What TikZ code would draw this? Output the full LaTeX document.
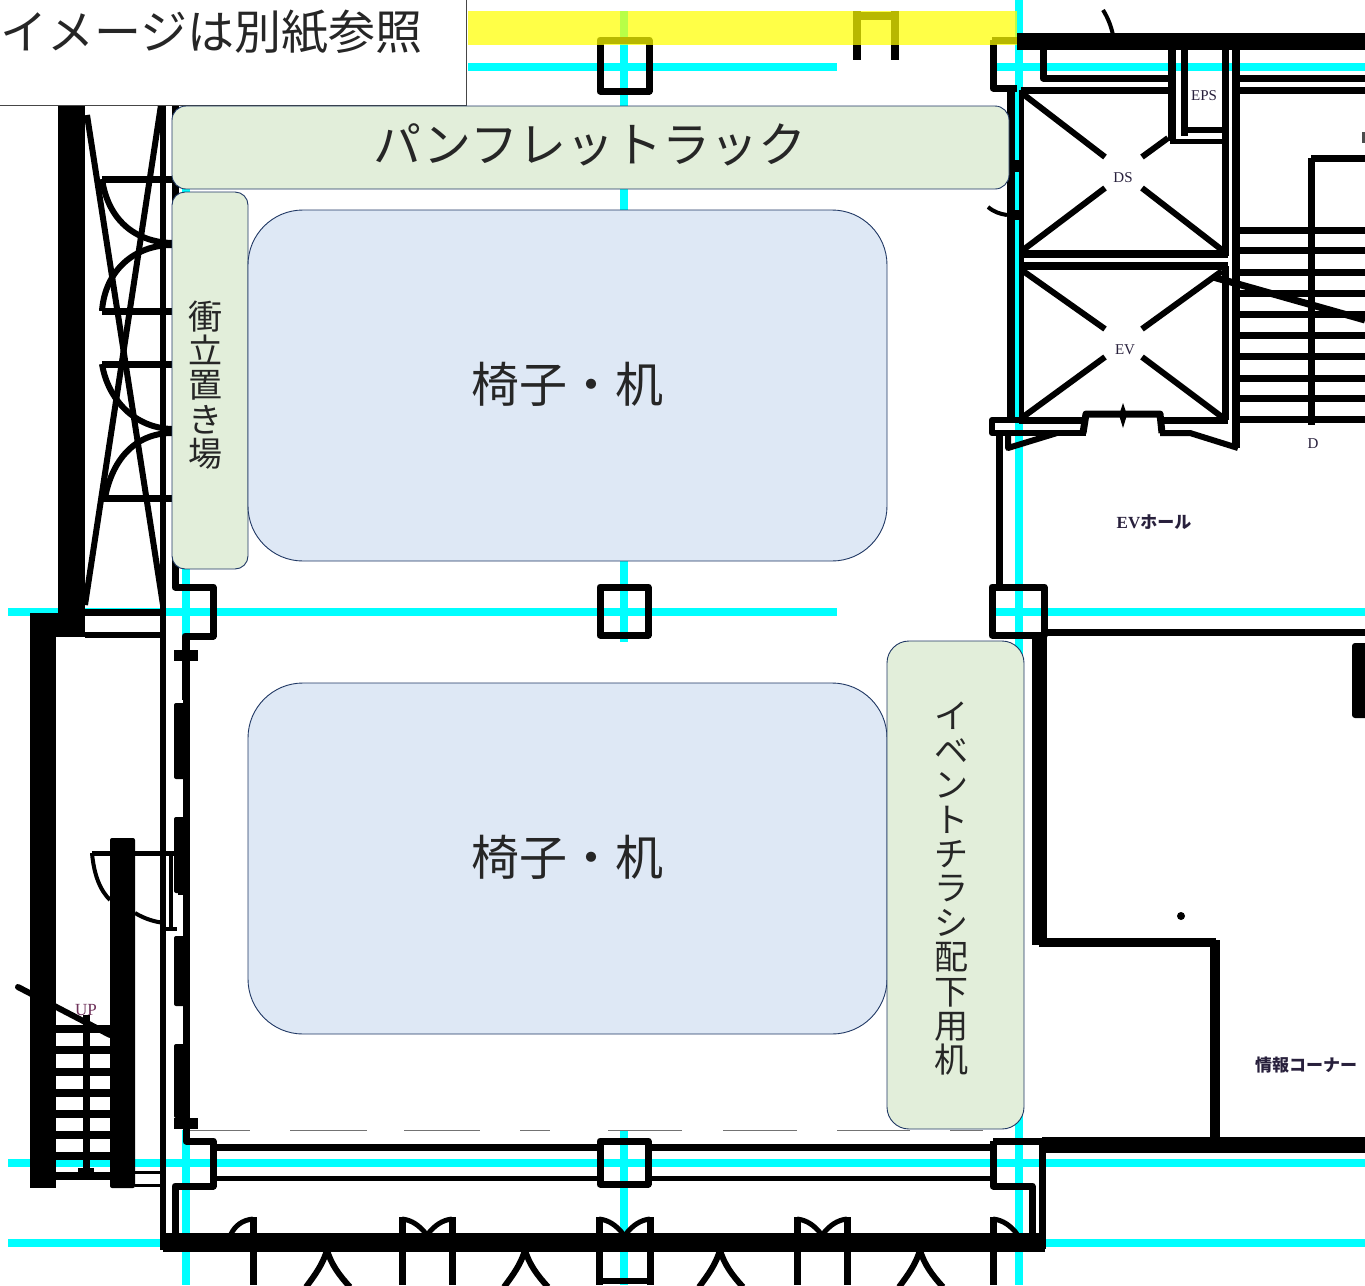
\documentclass[tikz,border=0pt]{standalone}
\usepackage{fontspec}
\setmainfont{Liberation Serif}
\newfontfamily\jpfont{Noto Sans CJK JP}
\definecolor{gridcyan}{RGB}{0,255,255}
\definecolor{markyellow}{RGB}{255,255,0}
\definecolor{boxedge}{RGB}{32,56,100}
\definecolor{boxgreen}{RGB}{226,238,218}
\definecolor{boxblue}{RGB}{222,232,245}
\definecolor{inktext}{RGB}{38,38,38}
\definecolor{planink}{RGB}{40,32,60}
\tikzset{
  wall/.style={black,line width=#1,line join=round},
  wall/.default=7pt,
  grid/.style={gridcyan,line width=8pt},
  greenbox/.style={draw=boxedge,fill=boxgreen,line width=0.9pt,rounded corners=#1},
  bluebox/.style={draw=boxedge,fill=boxblue,line width=0.9pt,rounded corners=55pt},
  jplabel/.style={inner sep=0pt,font=\jpfont\fontsize{48}{48}\selectfont,text=inktext},
  vlabel/.style={inner sep=0pt,align=center,font=\jpfont\fontsize{34}{34.4}\selectfont,text=inktext},
  tinylabel/.style={inner sep=0pt,font=\fontsize{15}{15}\selectfont,text=planink}
}
\begin{document}
\begin{tikzpicture}[x=1pt,y=-1pt]
\useasboundingbox (0,0) rectangle (1365,1285);
\fill [white] (0,0) rectangle (1365,1285);
\draw [grid] (468,67) -- (837,67);
\draw [grid] (990,67) -- (1365,67);
\draw [grid] (8,612) -- (837,612);
\draw [grid] (990,612) -- (1365,612);
\draw [grid] (8,1163) -- (1365,1163);
\draw [grid] (8,1243) -- (170,1243);
\draw [grid] (1030,1243) -- (1365,1243);
\draw [grid] (186,105) -- (186,640);
\draw [grid] (186,1130) -- (186,1285);
\draw [grid] (624,11) -- (624,642);
\draw [grid] (624,1130) -- (624,1285);
\draw [grid] (1019,0) -- (1019,1285);
\fill [black] (58,105) rectangle (85,615);
\fill [black] (30,613) rectangle (85,637);
\fill [black] (30,637) rectangle (56,1188);
\draw [wall=6pt] (87,115) -- (163,605);
\draw [wall=6pt] (161,105) -- (85,605);
\draw [wall=6pt] (163,105) -- (163,1250);
\draw [wall=7pt] (85,612) -- (163,612);
\draw [wall=6pt] (85,635) -- (163,635);
\foreach \yrung in {179,311,364,498} \draw [wall=7pt] (102,\yrung) -- (172,\yrung);
\draw [wall=6pt] (102,179) .. controls (108,220) and (135,242) .. (172,243);
\draw [wall=6pt] (102,311) .. controls (105,270) and (135,245) .. (172,245);
\draw [wall=6pt] (102,364) .. controls (108,400) and (135,428) .. (172,429);
\draw [wall=6pt] (105,498) .. controls (112,460) and (135,433) .. (172,433);
\draw [wall] (175,105) -- (175,587) -- (213,587) -- (213,636) -- (185,636) -- (185,700);
\draw [wall] (186,640) -- (186,1141) -- (213,1141) -- (213,1186) -- (175,1186) -- (175,1240);
\fill [black] (174,650) rectangle (198,661);
\foreach \ytop/\ybot in {703/779,817/893,936/1006,1044/1118} \fill [black,rounded corners=2pt] (174,\ytop) rectangle (186,\ybot);
\fill [black] (178,893) rectangle (190,895);
\fill [white] (178,895) rectangle (182,922);
\fill [black] (174,1118) rectangle (198,1129);
\fill [black,rounded corners=2pt] (110,838) rectangle (135,1188);
\draw [wall=5pt] (92,853) -- (176,853);
\draw [wall=4pt] (171,853) -- (171,928);
\draw [wall=4pt] (163,929) -- (177,929);
\draw [wall=4pt] (92,853) .. controls (94,875) and (100,890) .. (110,900);
\draw [wall=4pt] (135,913) .. controls (145,919) and (155,922) .. (165,923);
\foreach \yrung in {1029,1050,1072,1093,1114,1135,1156,1176} \draw [wall=8pt] (56,\yrung) -- (110,\yrung);
\draw [wall=7pt] (86,1015) -- (86,1172);
\fill [black] (78,1168) rectangle (94,1175);
\draw [wall=6pt,line cap=round] (18,987) -- (110,1035);
\draw [wall=3pt] (135,1172) -- (163,1172);
\draw [wall=3pt] (135,1185) -- (163,1185);
\fill [black] (163,1233) rectangle (1045,1252);
\draw [wall] (213,1147) -- (597,1147);
\draw [wall] (650,1147) -- (990,1147);
\draw [wall=5pt] (213,1178) -- (597,1178);
\draw [wall=5pt] (650,1178) -- (990,1178);
\draw [wall] (600,1141) rectangle (648,1184);
\draw [wall] (600,40) rectangle (649,91);
\draw [wall] (600,587) rectangle (648,635);
\draw [wall] (992,587) rectangle (1044,635);
\draw [wall=7pt] (999,433) -- (999,585);
\draw [wall] (1044,632) -- (1365,632);
\draw [wall=15pt] (1039,635) -- (1039,945);
\draw [wall=9pt] (1039,942) -- (1216,942);
\draw [wall=10pt] (1215,940) -- (1215,1140);
\fill [black] (1181,916) circle (4);
\fill [black,rounded corners=3pt] (1352,643) rectangle (1370,718);
\draw [wall] (993,1141) -- (1042,1141) -- (1042,1249);
\draw [wall] (993,1141) -- (993,1186) -- (1032,1186) -- (1032,1238);
\fill [black] (1042,1137) rectangle (1365,1153);
\foreach \xdoor in {253,402,452,599,650,797,847,993} {
  \draw [wall] (\xdoor,1217) -- (\xdoor,1235);
  \draw [wall] (\xdoor,1250) -- (\xdoor,1285);
}
\draw [wall=5pt] (253,1219) .. controls (242,1220) and (235,1226) .. (231,1234);
\draw [wall=5pt] (402,1219) .. controls (412,1220) and (420,1226) .. (426,1234);
\draw [wall=5pt] (452,1219) .. controls (442,1220) and (434,1226) .. (428,1234);
\draw [wall=5pt] (599,1219) .. controls (609,1220) and (617,1226) .. (623,1234);
\draw [wall=5pt] (650,1219) .. controls (640,1220) and (632,1226) .. (626,1234);
\draw [wall=5pt] (797,1219) .. controls (807,1220) and (815,1226) .. (821,1234);
\draw [wall=5pt] (847,1219) .. controls (837,1220) and (829,1226) .. (823,1234);
\draw [wall=5pt] (993,1219) .. controls (1003,1220) and (1011,1226) .. (1017,1234);
\draw [wall=6pt] (599,1281) -- (650,1281);
\foreach \xpeak in {327,525,720,920} \draw [wall=6pt] (\xpeak-21,1287) .. controls (\xpeak-12,1275) and (\xpeak-4,1264) .. (\xpeak,1250) .. controls (\xpeak+4,1264) and (\xpeak+12,1275) .. (\xpeak+23,1287);
\fill [black] (1017,33) rectangle (1365,50);
\draw [wall] (992,40) -- (1018,40);
\draw [wall] (993,40) -- (993,88) -- (1017,88);
\draw [wall=8pt] (1011,88) -- (1011,422);
\fill [black] (1007,160) rectangle (1019,172);
\fill [black] (1007,210) rectangle (1019,220);
\draw [wall=4pt] (1103,10) .. controls (1108,18) and (1111,26) .. (1113,35);
\draw [wall=4pt] (988,207) .. controls (994,212) and (1000,214) .. (1007,215);
\draw [wall] (1043,45) -- (1043,78) -- (1172,78);
\draw [wall=8pt] (1172,45) -- (1172,141);
\draw [wall=7pt] (1184,45) -- (1184,136);
\draw [wall=7pt] (1225,45) -- (1225,256);
\draw [wall=8pt] (1236,45) -- (1236,448);
\draw [wall] (1238,78) -- (1365,78);
\draw [wall] (1238,90) -- (1365,90);
\draw [wall=6pt] (1184,130) -- (1224,130);
\draw [wall=5pt] (1170,141) -- (1224,141);
\draw [wall] (1021,90) -- (1174,90);
\draw [wall=5pt] (1021.5,90) -- (1021.5,420);
\draw [wall=8pt] (1019,254) -- (1228,254);
\draw [wall=8pt] (1019,266) -- (1228,266);
\draw [wall=7pt] (1225,266) -- (1225,420);
\draw [wall=7pt] (1019,420) -- (1086,420);
\draw [wall=7pt] (1162,420) -- (1228,420);
\draw [wall=7pt] (1083,433) -- (1086,414) -- (1160,414) -- (1162,433);
\draw [wall=6pt] (1021,420) -- (992,420) -- (992,433) -- (1086,433);
\draw [wall=6pt] (1008,433) -- (1008,448) -- (1057,433);
\draw [wall=6pt] (1160,433) -- (1190,433) -- (1238,448);
\fill [black] (1123,403) -- (1127,415) -- (1123,428) -- (1119,415) -- cycle;
\draw [wall=6pt] (1023,94) -- (1105,157);
\draw [wall=6pt] (1142,157) -- (1168,138);
\draw [wall=6pt] (1023,250) -- (1105,188);
\draw [wall=6pt] (1142,188) -- (1222,250);
\draw [wall=6pt] (1023,271) -- (1105,329);
\draw [wall=6pt] (1142,329) -- (1222,271);
\draw [wall=6pt] (1023,417) -- (1105,357);
\draw [wall=6pt] (1142,357) -- (1222,417);
\foreach \yrung in {230,250,272,293,314,335,356,378,398,419} \draw [wall=7pt] (1238,\yrung) -- (1365,\yrung);
\draw [wall=7pt] (1311,158) -- (1365,158);
\draw [wall=7pt] (1311,158) -- (1311,425);
\draw [wall=7pt] (1213,277) -- (1365,320);
\draw [wall=8pt] (857,11) -- (857,60);
\draw [wall=8pt] (895,11) -- (895,60);
\draw [wall=8pt] (857,16) -- (899,16);
\fill [black!70] (1362,132) rectangle (1365,143);
\foreach \xa/\xb in {190/250,290/367,404/480,520/550,608/682,723/797,837/910,950/983} \draw [black!55,line width=1pt] (\xa,1130.5) -- (\xb,1130.5);
\fill [markyellow,opacity=0.72] (468,11) rectangle (1017,45);
\node (dslabel) [tinylabel] at (1123,178) {DS};
\node (evlabel) [tinylabel] at (1125,350) {EV};
\node (epslabel) [tinylabel] at (1204,96) {EPS};
\node (dlabel) [tinylabel] at (1313,444) {D};
\node (uplabel) [tinylabel,font=\fontsize{17}{17}\selectfont,text={rgb,255:red,110;green,50;blue,90}] at (86,1010) {UP};
\node (hall) [tinylabel,font=\bfseries\fontsize{17}{17}\selectfont] at (1154,522) {EV{\jpfont\fontsize{17}{17}\selectfont ホール}};
\node (info) [tinylabel] at (1306,1065) {\jpfont\bfseries\fontsize{17}{17}\selectfont 情報コーナー};
\node (titlebox) [draw={rgb,255:red,70;green,70;blue,70},fill=white,line width=0.8pt,minimum width=480pt,minimum height=118pt,anchor=south east,inner sep=0pt] at (467,105.5) {};
\node (titletext) [jplabel,anchor=west,font=\jpfont\fontsize{47}{47}\selectfont] at (0,32) {イメージは別紙参照};
\node (rack) [greenbox=14pt,minimum width=837pt,minimum height=83pt,inner sep=0pt] at (590.5,147.5) {};
\node (racktext) [jplabel] at (590,145) {パンフレットラック};
\node (screen) [greenbox=13pt,minimum width=76pt,minimum height=377pt,inner sep=0pt] at (210,380.5) {};
\node (screentext) [vlabel] at (205,385) {衝\\立\\置\\き\\場};
\node (seatstop) [bluebox,minimum width=639pt,minimum height=351pt,inner sep=0pt] at (567.5,385.5) {};
\node (seatstoptext) [jplabel] at (567,384) {椅子・机};
\node (seatsbottom) [bluebox,minimum width=639pt,minimum height=351pt,inner sep=0pt] at (567.5,858.5) {};
\node (seatsbottomtext) [jplabel] at (567,857) {椅子・机};
\node (flyer) [greenbox=22pt,minimum width=137pt,minimum height=488pt,inner sep=0pt] at (955.5,885) {};
\node (flyertext) [vlabel] at (951,889) {イ\\ベ\\ン\\ト\\チ\\ラ\\シ\\配\\下\\用\\机};
\end{tikzpicture}
\end{document}
